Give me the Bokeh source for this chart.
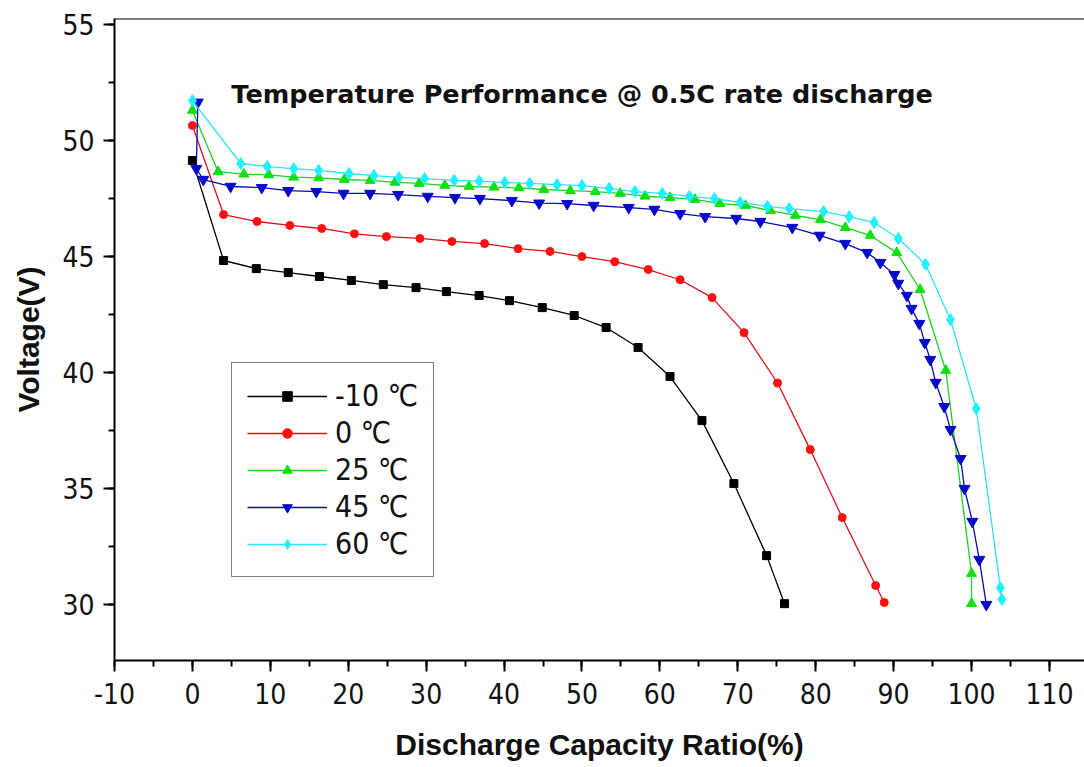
from bokeh.plotting import figure
from bokeh.models import Range1d, SingleIntervalTicker, Label, Span, Legend
from bokeh.embed import file_html
from bokeh.resources import INLINE

# ---- data ----
x_m10 = [0, 4.0, 8.2, 12.3, 16.3, 20.4, 24.5, 28.7, 32.6, 36.8, 40.7, 44.9, 49.0, 53.1,
         57.2, 61.3, 65.4, 69.5, 73.7, 76.0]
v_m10 = [49.14, 44.83, 44.48, 44.31, 44.14, 43.97, 43.79, 43.66, 43.49, 43.32, 43.10, 42.80,
         42.46, 41.94, 41.08, 39.83, 37.93, 35.22, 32.11, 30.04]

x_0 = [0, 4.0, 8.3, 12.5, 16.6, 20.8, 24.9, 29.2, 33.3, 37.5, 41.8, 45.9, 50.0, 54.2, 58.5,
       62.6, 66.7, 70.8, 75.1, 79.3, 83.4, 87.7, 88.8]
v_0 = [50.65, 46.81, 46.51, 46.34, 46.21, 45.98, 45.86, 45.78, 45.65, 45.56, 45.34, 45.22,
       45.0, 44.78, 44.44, 44.0, 43.23, 41.72, 39.55, 36.68, 33.75, 30.82, 30.09]

x_25 = [0, 3.3, 6.6, 9.8, 13.0, 16.2, 19.5, 22.8, 26.0, 29.1, 32.4, 35.5, 38.7, 41.9, 45.1,
        48.5, 51.7, 54.9, 58.1, 61.3, 64.5, 67.7, 71.0, 74.2, 77.4, 80.6, 83.8, 87.0, 90.4,
        93.4, 96.7, 100.0, 100.0]
v_25 = [51.3, 48.66, 48.55, 48.52, 48.42, 48.39, 48.32, 48.28, 48.2, 48.15, 48.07, 48.02,
        47.99, 47.96, 47.89, 47.84, 47.8, 47.72, 47.6, 47.54, 47.46, 47.28, 47.2, 46.98,
        46.77, 46.59, 46.25, 45.91, 45.17, 43.58, 40.09, 31.34, 30.04]

x_45 = [0.7, 0.5, 1.4, 4.9, 8.9, 12.3, 15.9, 19.4, 22.8, 26.4, 30.2, 33.7, 36.9, 41.0, 44.5,
        48.1, 51.5, 56.0, 59.3, 62.6, 65.8, 69.8, 72.9, 77.0, 80.5, 83.8, 86.6, 88.3, 90.1,
        90.6, 91.7, 92.3, 93.3, 94.0, 94.7, 95.4, 96.5, 97.3, 98.6, 99.1, 100.1, 101.0, 101.9]
v_45 = [51.65, 48.79, 48.32, 48.02, 47.97, 47.84, 47.8, 47.72, 47.72, 47.67, 47.59, 47.54,
        47.5, 47.41, 47.3, 47.28, 47.2, 47.11, 47.03, 46.85, 46.72, 46.64, 46.51, 46.25,
        45.91, 45.56, 45.17, 44.74, 44.22, 43.84, 43.32, 42.76, 42.11, 41.29, 40.56, 39.57,
        38.53, 37.54, 36.29, 35.0, 33.58, 31.94, 30.0]

x_60 = [0, 6.2, 9.6, 13.0, 16.2, 20.1, 23.3, 26.5, 29.8, 33.6, 36.8, 40.1, 43.3, 46.8, 50.0,
        53.5, 56.8, 60.3, 63.8, 67.0, 70.3, 73.8, 76.6, 81.0, 84.3, 87.5, 90.6, 94.1, 97.3,
        100.6, 103.7, 103.9]
v_60 = [51.72, 49.01, 48.88, 48.79, 48.71, 48.58, 48.49, 48.41, 48.36, 48.28, 48.25, 48.19,
        48.15, 48.1, 48.06, 47.93, 47.8, 47.72, 47.59, 47.5, 47.33, 47.16, 47.07, 46.94,
        46.72, 46.47, 45.78, 44.66, 42.28, 38.45, 30.73, 30.22]

labels = ["-10 \u2103", "0 \u2103", "25 \u2103", "45 \u2103", "60 \u2103"]
xs = [x_m10, x_0, x_25, x_45, x_60]
vs = [v_m10, v_0, v_25, v_45, v_60]

title_text = "Temperature Performance @ 0.5C rate discharge"
x_title = "Discharge Capacity Ratio(%)"
y_title = "Voltage(V)"

# ---- styles ----
line_colors = ["#000000", "#e0101a", "#22d022", "#0a0ab4", "#30e0ee"]
marker_colors = ["#000000", "#ff1010", "#10e010", "#0808c8", "#20f0ff"]
markers = ["square", "circle", "triangle", "inverted_triangle", "diamond"]
msizes = [8, 8, 10, 11, 12]

X0, X1 = -10, 114.5
Y0, Y1 = 27.59, 55.26
NARROW = "'DejaVu Sans Condensed', 'Liberation Sans'"

p = figure(width=1084, height=767, output_backend="svg", toolbar_location=None,
           x_range=Range1d(X0, X1), y_range=Range1d(Y0, Y1),
           min_border_left=114, min_border_right=0, min_border_top=18,
           min_border_bottom=107)
p.background_fill_color = "white"
p.border_fill_color = "white"
p.outline_line_color = None
p.grid.visible = False

items = []
for xv, yv, lab, lc, mc, mk, ms in zip(xs, vs, labels, line_colors, marker_colors, markers, msizes):
    r1 = p.line(xv, yv, line_color=lc, line_width=1.3)
    r2 = p.scatter(xv, yv, marker=mk, size=ms, fill_color=mc, line_color=mc)
    items.append((lab, [r1, r2]))

legend = Legend(items=items, location=(117, 83))
legend.glyph_width = 80
legend.glyph_height = 24
legend.label_height = 24
legend.spacing = 2
legend.padding = 15
legend.margin = 0
legend.label_standoff = 8
legend.label_text_font = NARROW
legend.label_text_font_size = "30px"
legend.label_text_color = "#111111"
legend.border_line_color = "black"
legend.border_line_width = 1.5
legend.background_fill_alpha = 1.0
p.add_layout(legend, "center")

# axes
for ax in (p.xaxis[0], p.yaxis[0]):
    ax.axis_line_width = 2
    ax.axis_line_color = "black"
    ax.major_tick_line_width = 2
    ax.minor_tick_line_width = 2
    ax.major_tick_in = 0
    ax.major_tick_out = 11
    ax.minor_tick_in = 0
    ax.minor_tick_out = 6
    ax.major_label_text_font = NARROW
    ax.major_label_text_font_size = "28px"
    ax.major_label_text_color = "#111111"
    ax.axis_label_text_font = "Liberation Sans"
    ax.axis_label_text_font_style = "bold"
    ax.axis_label_text_font_size = "30px"
    ax.axis_label_text_color = "#111111"

p.xaxis[0].ticker = SingleIntervalTicker(interval=10, num_minor_ticks=2)
p.yaxis[0].ticker = SingleIntervalTicker(interval=5, num_minor_ticks=2)
p.xaxis[0].major_label_overrides = {-10: "-10"}
p.xaxis[0].axis_label = x_title
p.yaxis[0].axis_label = y_title
p.xaxis[0].major_label_standoff = 11
p.xaxis[0].axis_label_standoff = 21
p.yaxis[0].major_label_standoff = 9
p.yaxis[0].axis_label_standoff = 14

# top frame line
p.add_layout(Span(location=Y1, dimension="width", line_color="black", line_width=2))

p.add_layout(Label(x=5.0, y=52.0, text=title_text, text_font="DejaVu Sans",
                   text_font_style="bold", text_font_size="25.5px", text_color="#111111",
                   text_align="left", text_baseline="middle"))

open("out.html", "w").write(file_html(p, INLINE))
